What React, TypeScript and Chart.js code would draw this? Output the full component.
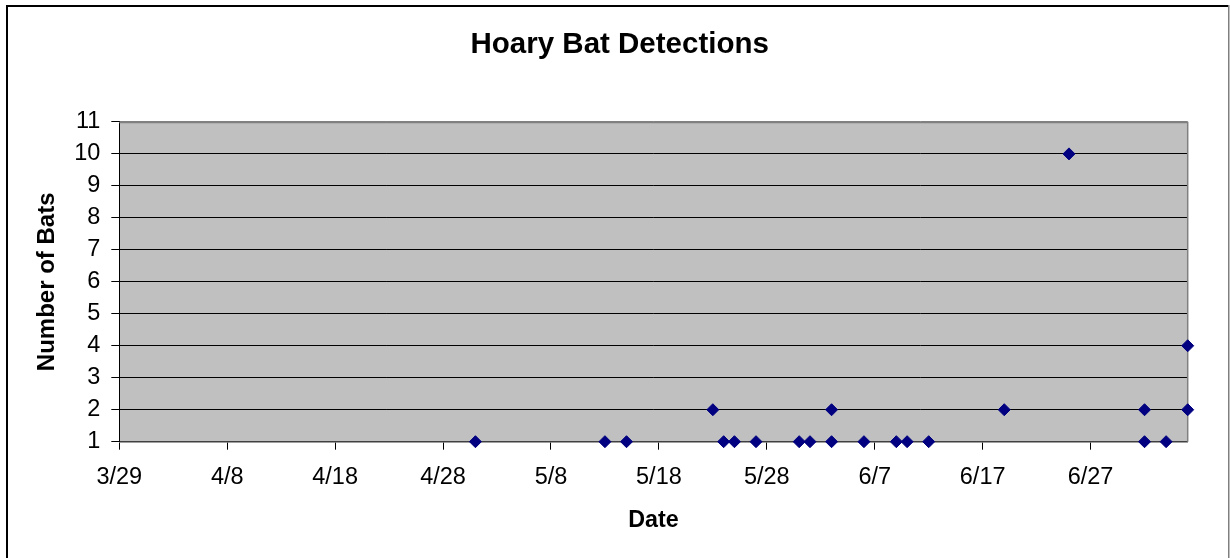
import React, { useEffect, useRef } from "react";
import { Chart, registerables } from "chart.js";

Chart.register(...registerables);

// ---- Data ----
const detectionDates = [
  "5/1", "5/13", "5/15", "5/23", "5/24", "5/25", "5/27", "5/31", "6/1",
  "6/3", "6/3", "6/6", "6/9", "6/10", "6/12", "6/19", "6/25",
  "7/2", "7/2", "7/4", "7/6", "7/6",
];
const batCounts = [
  1, 1, 1, 2, 1, 1, 1, 1, 1,
  2, 1, 1, 1, 1, 1, 2, 10,
  2, 1, 1, 2, 4,
];
const xTickLabels = ["3/29", "4/8", "4/18", "4/28", "5/8", "5/18", "5/28", "6/7", "6/17", "6/27"];
const xStart = "3/29";
const xEnd = "7/6";
const yMin = 1;
const yMax = 11;

const chartTitle = "Hoary Bat Detections";
const xTitle = "Date";
const yTitle = "Number of Bats";

const FONT = "'Liberation Sans', Arial, Helvetica, sans-serif";
const DAY = 86400000;

function toUTC(md: string): number {
  const [m, d] = md.split("/").map(Number);
  return Date.UTC(2001, m - 1, d);
}
function dayOffset(md: string): number {
  return Math.round((toUTC(md) - toUTC(xStart)) / DAY);
}
function dayLabel(v: number): string {
  const t = new Date(toUTC(xStart) + v * DAY);
  return `${t.getUTCMonth() + 1}/${t.getUTCDate()}`;
}

const framePlugin = {
  id: "excelFrame",
  beforeDraw(chart: any) {
    const { ctx, chartArea: a } = chart;
    ctx.save();
    ctx.fillStyle = "#ffffff";
    ctx.fillRect(0, 0, chart.width, chart.height);
    ctx.fillStyle = "#C0C0C0";
    ctx.fillRect(a.left, a.top, a.right - a.left, a.bottom - a.top);
    // outer chart border
    ctx.fillStyle = "#000000";
    ctx.fillRect(6, 5, 2, chart.height - 5);
    ctx.fillRect(6, 5, 1223, 2);
    ctx.fillStyle = "#808080";
    ctx.fillRect(1228, 5, 1.5, chart.height - 5);
    ctx.restore();
  },
  beforeDatasetsDraw(chart: any) {
    const { ctx, chartArea: a } = chart;
    ctx.save();
    ctx.strokeStyle = "#808080";
    ctx.lineWidth = 1.5;
    ctx.beginPath();
    ctx.moveTo(a.left, a.top + 0.5);
    ctx.lineTo(a.right, a.top + 0.5);
    ctx.lineTo(a.right, a.bottom);
    ctx.stroke();
    ctx.restore();
  },
};

export default function App() {
  const canvasRef = useRef<HTMLCanvasElement | null>(null);

  useEffect(() => {
    if (!canvasRef.current) return;
    const points = detectionDates.map((d, i) => ({ x: dayOffset(d), y: batCounts[i] }));

    const chart = new Chart(canvasRef.current, {
      type: "scatter",
      data: {
        datasets: [
          {
            label: "Hoary Bat",
            data: points,
            showLine: false,
            pointStyle: "rectRot",
            pointRadius: 6,
            pointHoverRadius: 6,
            backgroundColor: "#000080",
            borderColor: "#000080",
            borderWidth: 1,
            clip: false,
          } as any,
        ],
      },
      options: {
        responsive: false,
        animation: false,
        layout: { padding: { left: 51.7, right: 42.3, top: 0, bottom: 0 } },
        plugins: {
          legend: { display: false },
          tooltip: { enabled: false },
          title: {
            display: true,
            text: chartTitle,
            color: "#000",
            font: { family: FONT, size: 29.5, weight: "bold" },
            padding: { top: 27.5, bottom: 59 },
          },
        },
        scales: {
          x: {
            type: "linear",
            min: dayOffset(xStart),
            max: dayOffset(xEnd),
            afterBuildTicks: (scale: any) => {
              scale.ticks = xTickLabels.map((l) => ({ value: dayOffset(l) }));
            },
            afterFit: (scale: any) => {
              scale.height = 116.3;
            },
            ticks: {
              autoSkip: false,
              maxRotation: 0,
              padding: 14,
              color: "#000",
              font: { family: FONT, size: 23.5 },
              callback: (v: any) => dayLabel(Number(v)),
            },
            grid: {
              drawOnChartArea: false,
              drawTicks: true,
              tickLength: 8,
              color: "#000",
              tickColor: "#000",
            },
            border: { display: true, color: "#404040", width: 1.5 },
            title: {
              display: true,
              text: xTitle,
              color: "#000",
              font: { family: FONT, size: 23.3, weight: "bold" },
              padding: { top: 0, bottom: 23.6 },
            },
          },
          y: {
            type: "linear",
            min: yMin,
            max: yMax,
            afterFit: (scale: any) => {
              scale.width = 67.6;
            },
            ticks: {
              stepSize: 1,
              padding: 11,
              color: "#000",
              font: { family: FONT, size: 23.5 },
            },
            grid: {
              drawOnChartArea: true,
              drawTicks: true,
              tickLength: 8,
              color: (c: any) => (c.tick && c.tick.value === yMax ? "#808080" : "#000"),
              tickColor: "#000",
              lineWidth: 1,
            },
            border: { display: true, color: "#000", width: 1 },
            title: {
              display: true,
              text: yTitle,
              color: "#000",
              font: { family: FONT, size: 24, weight: "bold" },
              padding: { top: -18.5, bottom: 0 },
            },
          },
        },
      } as any,
      plugins: [framePlugin],
    });

    return () => {
      chart.destroy();
    };
  }, []);

  return (
    <div style={{ position: "absolute", left: 0, top: 0, width: 1230, height: 558 }}>
      <canvas ref={canvasRef} width={1230} height={558} style={{ display: "block" }} />
    </div>
  );
}
